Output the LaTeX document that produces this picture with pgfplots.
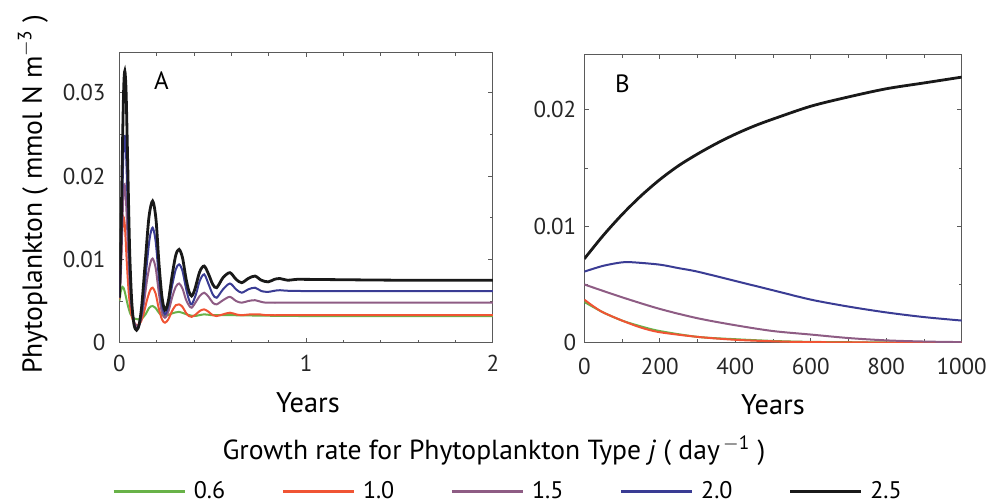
\documentclass[border=0pt]{standalone}
\usepackage{pgfplots}
\pgfplotsset{compat=1.18}
\usepackage{fontspec}
\setmainfont{PT Sans}
\definecolor{cgreen}{RGB}{104,178,72}
\definecolor{cred}{RGB}{240,84,52}
\definecolor{cpurple}{RGB}{142,92,132}
\definecolor{cblue}{RGB}{58,60,148}
\definecolor{cblack}{RGB}{25,25,25}
\definecolor{axgray}{RGB}{90,90,90}
\pgfplotsset{
  common/.style={
    scale only axis, anchor=south west,
    /pgf/number format/assume math mode=true,
    scaled x ticks=false, scaled y ticks=false,
    tick align=inside, major tick length=2.2pt, minor tick length=1.6pt,
    axis line style={draw=axgray, line width=0.5pt},
    tick style={draw=axgray, line width=0.4pt},
    tick label style={font=\fontsize{11.5}{13}\selectfont, text=black!85},
    clip=true,
  },
  sgreen/.style={cgreen, line width=1.0pt, smooth, mark=none},
  sred/.style={cred, line width=1.0pt, smooth, mark=none},
  spurple/.style={cpurple, line width=1.0pt, smooth, mark=none},
  sblue/.style={cblue, line width=1.0pt, smooth, mark=none},
  sblack/.style={cblack, line width=1.4pt, smooth, mark=none},
}
\begin{document}
\begin{tikzpicture}
\useasboundingbox (0,0) rectangle (496pt,252pt);
% ---------------- Panel A ----------------
\begin{axis}[common,
  at={(59.7pt,80.65pt)}, width=186.7pt, height=145pt,
  xmin=0, xmax=2, ymin=0, ymax=0.0348,
  xtick={0,1,2}, xticklabels={0,1,2},
  minor xtick={0.2,0.4,0.6,0.8,1.2,1.4,1.6,1.8},
  ytick={0,0.01,0.02,0.03}, yticklabels={0,0.01,0.02,0.03},
  minor ytick={0.005,0.015,0.025},
  yticklabel style={xshift=-3.5pt},
  xticklabel style={yshift=-2.5pt},
  legend columns=5,
  legend style={at={(axis description cs:-0.0206,-0.5138)}, anchor=west,
    draw=none, fill=none, inner sep=0pt,
    font=\fontsize{12}{14}\selectfont,
    /tikz/every odd column/.append style={column sep=1.8pt},
    /tikz/every even column/.append style={column sep=26pt}},
  legend image code/.code={\draw[#1, line width=1.6pt] (0pt,0pt) -- (35.5pt,0pt);},
]
\addplot[sgreen] coordinates {
(0,0.0050) (0.008,0.0062) (0.016,0.0067) (0.022,0.0066) (0.03,0.0060)
(0.045,0.0045) (0.06,0.0034) (0.08,0.0029) (0.1,0.0028) (0.12,0.0029)
(0.14,0.0034) (0.16,0.0042) (0.178,0.0044) (0.196,0.0041) (0.215,0.0035)
(0.244,0.0032) (0.28,0.0035) (0.32,0.0037) (0.36,0.0034) (0.4,0.0032)
(0.454,0.0034) (0.5,0.0033) (0.6,0.0033) (1.0,0.0032) (2.0,0.0032)};
\addlegendentry{0.6}
\addplot[sred] coordinates {
(0,0.0052) (0.006,0.0085) (0.013,0.0125) (0.02,0.0148) (0.024,0.0150)
(0.03,0.0138) (0.04,0.0095) (0.05,0.0060) (0.062,0.0036) (0.078,0.0024)
(0.098,0.0021) (0.115,0.0025) (0.13,0.0035) (0.15,0.0053) (0.165,0.0063)
(0.178,0.0066) (0.194,0.0059) (0.21,0.0042) (0.228,0.0028) (0.244,0.0024)
(0.262,0.0028) (0.282,0.0038) (0.302,0.0045) (0.320,0.0046) (0.338,0.0043)
(0.356,0.0036) (0.372,0.0032) (0.387,0.0031) (0.41,0.0034) (0.43,0.0038)
(0.454,0.0040) (0.478,0.0037) (0.50,0.0033) (0.521,0.0032) (0.555,0.0034)
(0.592,0.0036) (0.625,0.0034) (0.655,0.0033) (0.7,0.0034) (0.75,0.0034)
(0.8,0.0033) (1.0,0.0033) (2.0,0.0033)};
\addlegendentry{1.0}
\addplot[spurple] coordinates {
(0,0.0054) (0.008,0.0085) (0.016,0.0145) (0.023,0.0183) (0.028,0.0190)
(0.035,0.0172) (0.045,0.0120) (0.055,0.0072) (0.066,0.0042) (0.08,0.0024)
(0.097,0.0020) (0.112,0.0026) (0.128,0.0042) (0.148,0.0075) (0.165,0.0095)
(0.178,0.0101) (0.194,0.0090) (0.21,0.0062) (0.226,0.0038) (0.244,0.0030)
(0.262,0.0037) (0.282,0.0054) (0.302,0.0067) (0.320,0.0071) (0.338,0.0065)
(0.356,0.0052) (0.372,0.0045) (0.387,0.0042) (0.41,0.0049) (0.43,0.0056)
(0.454,0.0060) (0.478,0.0055) (0.50,0.0048) (0.521,0.0046) (0.555,0.0051)
(0.592,0.0055) (0.625,0.0050) (0.655,0.0048) (0.69,0.0050) (0.726,0.0051)
(0.76,0.0049) (0.8,0.0048) (1.0,0.0048) (2.0,0.0048)};
\addlegendentry{1.5}
\addplot[sblue] coordinates {
(0,0.0054) (0.008,0.0100) (0.016,0.0180) (0.023,0.0235) (0.029,0.0248)
(0.036,0.0225) (0.045,0.0160) (0.055,0.0090) (0.066,0.0045) (0.08,0.0022)
(0.095,0.0017) (0.11,0.0024) (0.125,0.0045) (0.145,0.0090) (0.162,0.0125)
(0.178,0.0138) (0.194,0.0122) (0.21,0.0082) (0.226,0.0048) (0.244,0.0034)
(0.262,0.0044) (0.282,0.0068) (0.302,0.0088) (0.320,0.0094) (0.338,0.0086)
(0.356,0.0066) (0.372,0.0052) (0.387,0.0046) (0.41,0.0058) (0.43,0.0074)
(0.454,0.0082) (0.478,0.0070) (0.50,0.0058) (0.521,0.0054) (0.555,0.0064)
(0.592,0.0071) (0.625,0.0064) (0.655,0.0060) (0.69,0.0064) (0.726,0.0066)
(0.76,0.0062) (0.797,0.0061) (0.86,0.0063) (1.0,0.0062) (2.0,0.0062)};
\addlegendentry{2.0}
\addplot[sblack] coordinates {
(0,0.0054) (0.008,0.0120) (0.016,0.0230) (0.023,0.0305) (0.029,0.0326)
(0.036,0.0300) (0.045,0.0210) (0.055,0.0110) (0.066,0.0050) (0.078,0.0022)
(0.092,0.0015) (0.106,0.0022) (0.12,0.0045) (0.138,0.0095) (0.158,0.0150)
(0.178,0.0170) (0.196,0.0148) (0.212,0.0095) (0.228,0.0055) (0.244,0.0039)
(0.262,0.0050) (0.282,0.0080) (0.302,0.0105) (0.320,0.0112) (0.338,0.0102)
(0.356,0.0078) (0.372,0.0062) (0.387,0.0056) (0.404,0.0064) (0.43,0.0085)
(0.454,0.0092) (0.478,0.0082) (0.50,0.0070) (0.521,0.0066) (0.555,0.0078)
(0.592,0.0084) (0.625,0.0076) (0.655,0.0072) (0.69,0.0077) (0.726,0.0080)
(0.76,0.0075) (0.797,0.0073) (0.83,0.0076) (0.86,0.0077) (0.9,0.0075)
(0.95,0.0076) (1.0,0.0076) (1.5,0.0075) (2.0,0.0075)};
\addlegendentry{2.5}
\end{axis}
% ---------------- Panel B ----------------
\begin{axis}[common,
  at={(292.15pt,80.65pt)}, width=188.7pt, height=143.85pt,
  xmin=0, xmax=1000, ymin=0, ymax=0.0247,
  xtick={0,200,400,600,800,1000}, xticklabels={0,200,400,600,800,1000},
  minor xtick={100,300,500,700,900},
  ytick={0,0.01,0.02}, yticklabels={0,0.01,0.02},
  minor ytick={0.005,0.015},
  yticklabel style={xshift=-0.5pt},
  xticklabel style={yshift=-4pt},
]
\addplot[sgreen] coordinates {
(0,0.0035) (50,0.0026) (100,0.0019) (150,0.0014) (200,0.0010) (300,0.0005) (400,0.0003)
(500,0.00015) (600,0.00007) (800,0.00002) (1000,0)};
\addplot[sred] coordinates {
(0,0.0037) (25,0.0031) (50,0.0026) (100,0.0019) (150,0.0013) (200,0.0009)
(300,0.0005) (400,0.00025) (500,0.00012) (600,0.00005) (800,0.00001) (1000,0)};
\addplot[spurple] coordinates {
(0,0.0050) (100,0.0039) (200,0.0029) (300,0.0021) (400,0.0015) (500,0.0010)
(600,0.0007) (700,0.0004) (800,0.0002) (900,0.0001) (1000,0.00005)};
\addplot[sblue] coordinates {
(0,0.0061) (50,0.0066) (100,0.0069) (130,0.0069) (200,0.0067) (250,0.0064)
(300,0.0061) (400,0.0053) (500,0.0045) (600,0.0037) (700,0.0031) (800,0.0026)
(900,0.0022) (1000,0.0019)};
\addplot[sblack] coordinates {
(0,0.0072) (50,0.0092) (100,0.0110) (150,0.0126) (200,0.0140) (250,0.0152)
(300,0.0162) (350,0.0171) (400,0.0179) (450,0.0186) (500,0.0192) (600,0.0203)
(700,0.0211) (800,0.0218) (900,0.0223) (1000,0.0228)};
\end{axis}
% ---------------- Texts ----------------
\node[rotate=90, anchor=center, font=\fontsize{13.8}{15}\selectfont] at (16.5pt,155pt) {Phytoplankton ( mmol N m$^{\mathrm{-3}}$ )};
\node[anchor=center, font=\fontsize{12.5}{14}\selectfont] at (80.75pt,211.75pt) {A};
\node[anchor=center, font=\fontsize{12.5}{14}\selectfont] at (311.25pt,210.25pt) {B};
\node[anchor=base, font=\fontsize{14.2}{16}\selectfont] at (154pt,45.5pt) {Years};
\node[anchor=base, font=\fontsize{14.2}{16}\selectfont] at (386.5pt,44.5pt) {Years};
\node[anchor=base, font=\fontsize{13.8}{16}\selectfont] at (247pt,22pt) {Growth rate for Phytoplankton Type \textit{j} ( day$^{\,\mathrm{-1}}$ )};
\end{tikzpicture}
\end{document}
